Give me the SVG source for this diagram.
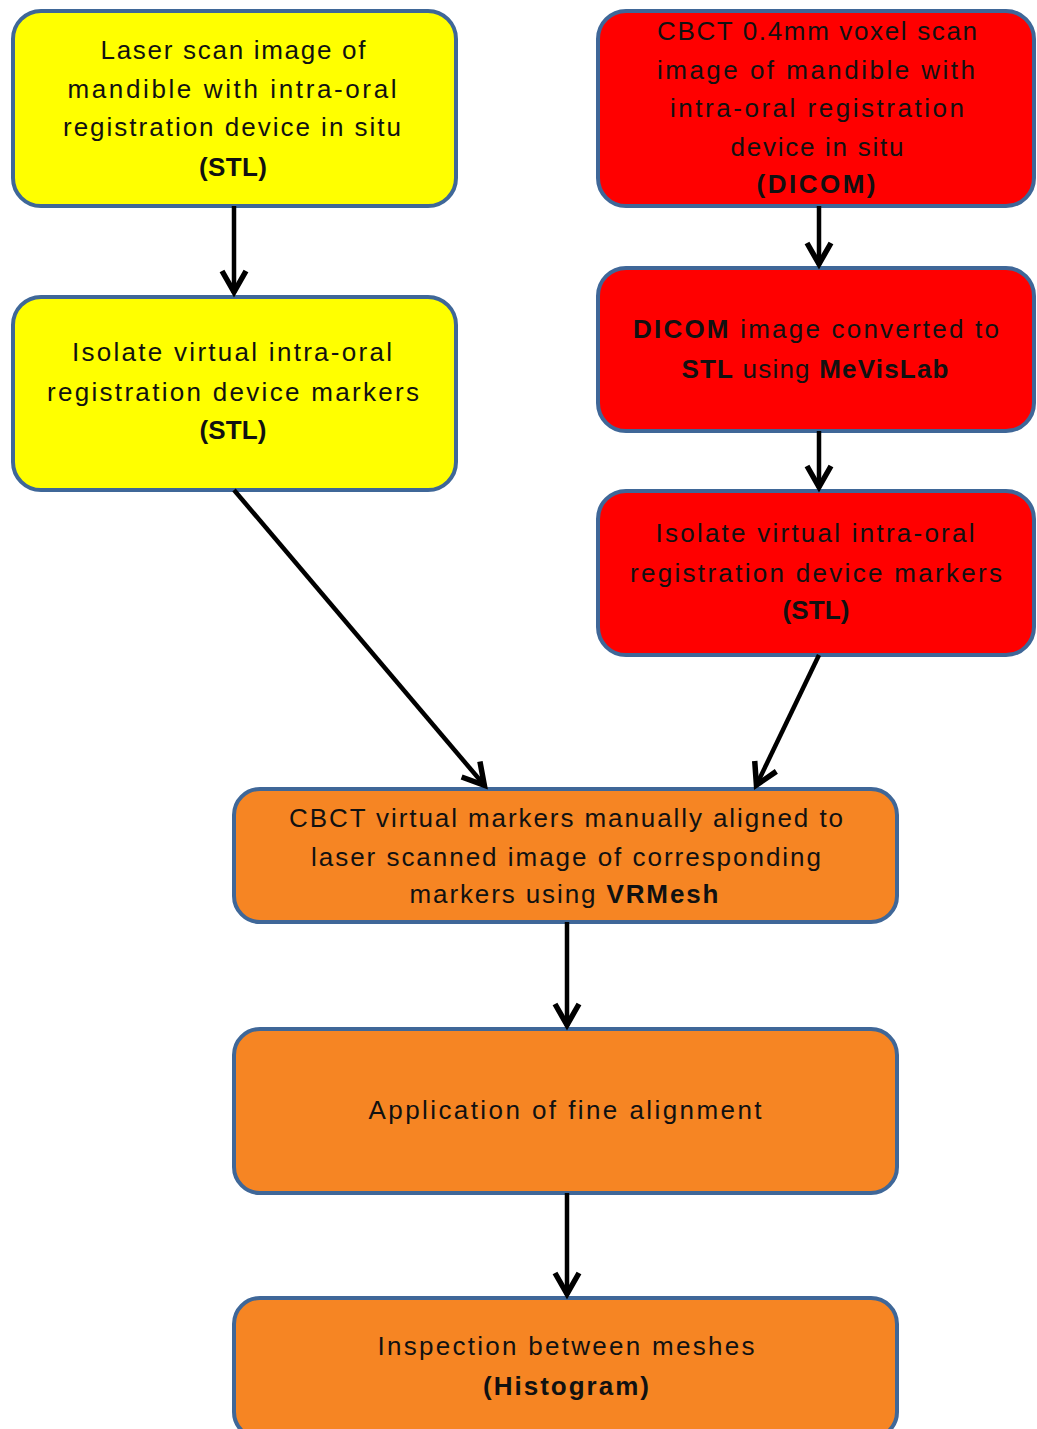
<svg xmlns="http://www.w3.org/2000/svg" width="1037" height="1429" viewBox="0 0 1037 1429">
<style>
.box{stroke:#3f6798;stroke-width:4}
.y{fill:#ffff00}.r{fill:#ff0000}.o{fill:#f68523}
text{font-family:"Liberation Sans",Arial,sans-serif;font-size:26px;fill:#111;text-anchor:middle}
.b{font-weight:bold}
.c{stroke:#000;stroke-width:4.5;fill:none}
</style>
<defs>
<marker id="ah" markerUnits="userSpaceOnUse" markerWidth="40" markerHeight="40" viewBox="-30 -20 40 40" refX="0" refY="0" orient="auto">
<path d="M-22,-12 L-1,0 L-22,12" fill="none" stroke="#000" stroke-width="5.5"/>
</marker>
</defs>
<rect width="1037" height="1429" fill="#fff"/>
<g id="n1"><rect class="box y" x="13" y="11" width="443" height="195" rx="28"/>
<text x="233" y="59" textLength="265">Laser scan image of</text>
<text x="232" y="98" textLength="329">mandible with intra-oral</text>
<text x="232" y="136" textLength="338">registration device in situ</text>
<text x="233" y="176" class="b" textLength="68">(STL)</text></g>
<g id="n2"><rect class="box r" x="598" y="11" width="436" height="195" rx="28"/>
<text x="817" y="40" textLength="320">CBCT 0.4mm voxel scan</text>
<text x="816" y="79" textLength="318">image of mandible with</text>
<text x="817" y="117" textLength="294">intra-oral registration</text>
<text x="817" y="156" textLength="173">device in situ</text>
<text x="816" y="193" class="b" textLength="119">(DICOM)</text></g>
<g id="n3"><rect class="box y" x="13" y="297" width="443" height="193" rx="28"/>
<text x="232" y="361" textLength="320">Isolate virtual intra-oral</text>
<text x="233" y="401" textLength="372">registration device markers</text>
<text x="233" y="439" class="b" textLength="67">(STL)</text></g>
<g id="n4"><rect class="box r" x="598" y="268" width="436" height="163" rx="28"/>
<text x="816" y="338" textLength="366"><tspan class="b">DICOM</tspan> image converted to</text>
<text x="815" y="378" textLength="267"><tspan class="b">STL</tspan> using <tspan class="b">MeVisLab</tspan></text></g>
<g id="n5"><rect class="box r" x="598" y="491" width="436" height="164" rx="28"/>
<text x="815" y="542" textLength="319">Isolate virtual intra-oral</text>
<text x="816" y="582" textLength="372">registration device markers</text>
<text x="816" y="619" class="b" textLength="67">(STL)</text></g>
<g id="n6"><rect class="box o" x="234" y="789" width="663" height="133" rx="26"/>
<text x="566" y="827" textLength="554">CBCT virtual markers manually aligned to</text>
<text x="566" y="866" textLength="510">laser scanned image of corresponding</text>
<text x="564" y="903" textLength="309">markers using <tspan class="b">VRMesh</tspan></text></g>
<g id="n7"><rect class="box o" x="234" y="1029" width="663" height="164" rx="26"/>
<text x="565" y="1119" textLength="393">Application of fine alignment</text></g>
<g id="n8"><rect class="box o" x="234" y="1298" width="663" height="140" rx="26"/>
<text x="566" y="1355" textLength="377">Inspection between meshes</text>
<text x="566" y="1395" class="b" textLength="166">(Histogram)</text></g>
<g id="connectors">
<line class="c" x1="234" y1="206" x2="234" y2="293" marker-end="url(#ah)"/>
<line class="c" x1="819" y1="206" x2="819" y2="265" marker-end="url(#ah)"/>
<line class="c" x1="819" y1="431" x2="819" y2="488" marker-end="url(#ah)"/>
<line class="c" x1="234" y1="490" x2="485" y2="786" marker-end="url(#ah)"/>
<line class="c" x1="819" y1="655" x2="756" y2="786" marker-end="url(#ah)"/>
<line class="c" x1="567" y1="922" x2="567" y2="1026" marker-end="url(#ah)"/>
<line class="c" x1="567" y1="1193" x2="567" y2="1295" marker-end="url(#ah)"/>
</g>
</svg>
